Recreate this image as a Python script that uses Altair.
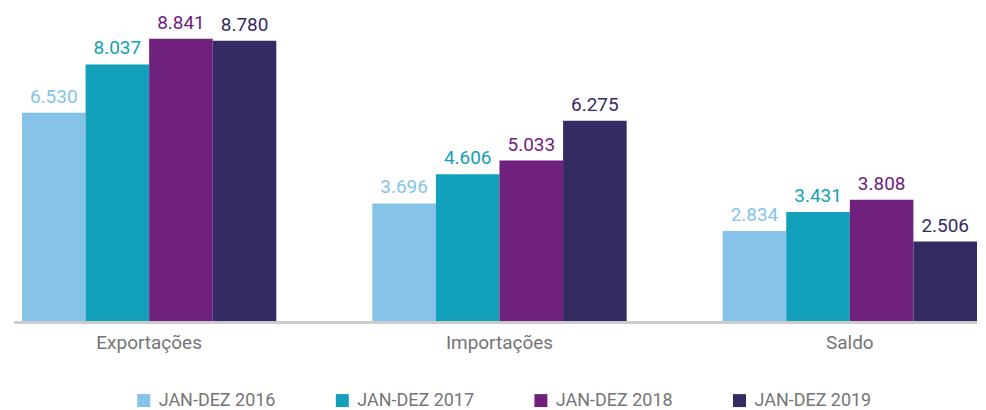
import altair as alt
import pandas as pd

categories = ["Exportações", "Importações", "Saldo"]
series = ["JAN-DEZ 2016", "JAN-DEZ 2017", "JAN-DEZ 2018", "JAN-DEZ 2019"]
v2016 = [6.530, 3.696, 2.834]
v2017 = [8.037, 4.606, 3.431]
v2018 = [8.841, 5.033, 3.808]
v2019 = [8.780, 6.275, 2.506]
colors = ["#85C3E9", "#12A0BA", "#70217E", "#352B63"]

rows = []
for s, vals in zip(series, [v2016, v2017, v2018, v2019]):
    for c, v in zip(categories, vals):
        rows.append({"categoria": c, "serie": s, "valor": v})
df = pd.DataFrame(rows)

FONT = "Roboto"
W, H = 965, 308

x = alt.X(
    "categoria:N",
    sort=categories,
    scale=alt.Scale(range=[8, W], paddingInner=0.274, paddingOuter=0),
    axis=alt.Axis(
        title=None, labelAngle=0, ticks=False, domain=False,
        labelFontSize=19, labelColor="#757575",
        labelFont=FONT, labelPadding=12,
    ),
)
xo = alt.XOffset("serie:N", sort=series, scale=alt.Scale(paddingInner=0, paddingOuter=0))
y = alt.Y("valor:Q", scale=alt.Scale(domain=[0, 9.6]), axis=None)
color = alt.Color(
    "serie:N",
    sort=series,
    scale=alt.Scale(domain=series, range=colors),
    legend=alt.Legend(
        orient="none", legendX=121, legendY=378, direction="horizontal",
        title=None, symbolType="square", symbolSize=169, symbolStrokeWidth=0,
        labelFontSize=18, labelColor="#757575", labelFont=FONT,
        columnPadding=57, labelOffset=6, padding=0,
    ),
)

base = alt.Chart(df).encode(x=x, xOffset=xo, y=y, color=color)
bars = base.mark_bar()
labels = base.mark_text(
    baseline="alphabetic", dy=-10, fontSize=19, font=FONT, align="center"
).encode(text=alt.Text("valor:Q", format=".3f"))

baseline_rule = alt.Chart(df).mark_rule(color="#cccccc", strokeWidth=2).encode(
    x=alt.value(0), x2=alt.value(W), y=alt.value(H + 1)
)

chart = (
    alt.layer(bars, labels, baseline_rule)
    .properties(width=W, height=H, padding={"left": 5, "top": 5, "right": 0, "bottom": 0})
    .configure_view(stroke=None)
)

chart.save("out.html", embed_options={"renderer": "svg", "actions": False})
